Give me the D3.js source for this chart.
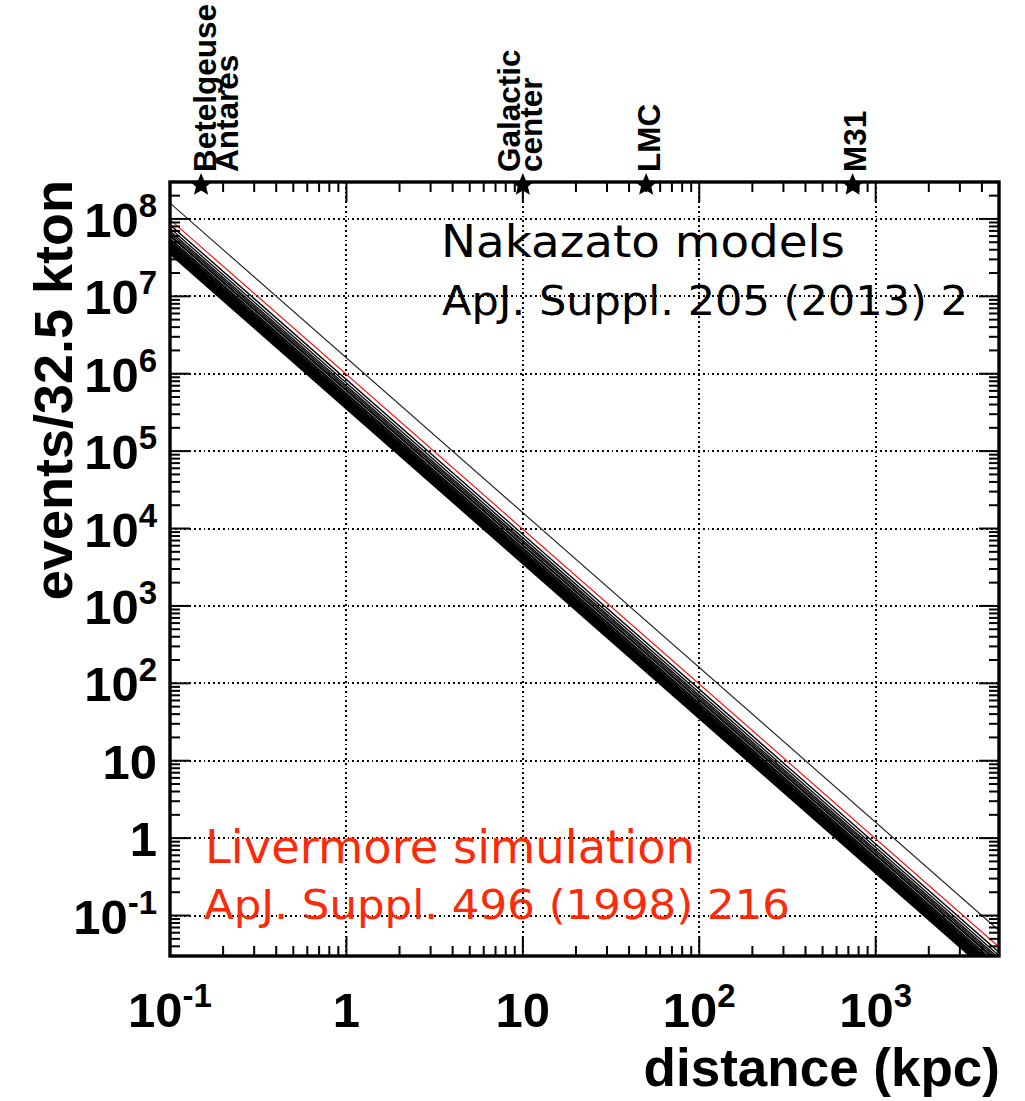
<!DOCTYPE html>
<html>
<head>
<meta charset="utf-8">
<script src="https://cdn.jsdelivr.net/npm/d3@7"></script>
<style>
  html, body { margin: 0; padding: 0; background: #fff; }
  svg { display: block; }
</style>
</head>
<body>
<svg id="chart" width="1025" height="1101"></svg>
<script>
// Expected events per 32.5 kton for a supernova at 10 kpc
const nakazatoEventsAt10kpc = [3500, 3600, 3700, 3800, 3900, 4000, 4100, 4200, 4300, 4400, 4500, 4600,
                               4700, 4850, 5000, 5150, 5400, 5600, 6000, 6200, 6600, 7000, 7600, 8400];
const nakazatoBlackHoleEventsAt10kpc = [16000];   // black-hole forming collapse
const livermoreEventsAt10kpc = [9800];
const referenceDistance = 10;                     // kpc
const lineDistances = [0.1, 5000];                // kpc, ends of each line

// Axis ticks and their labels (base, exponent)
const xTickValues = [0.1, 1, 10, 100, 1000];
const xTickLabels = [["10", "-1"], ["1", ""], ["10", ""], ["10", "2"], ["10", "3"]];
const yTickValues = [1e-1, 1, 10, 1e2, 1e3, 1e4, 1e5, 1e6, 1e7, 1e8];
const yTickLabels = [["10", "-1"], ["1", ""], ["10", ""], ["10", "2"], ["10", "3"], ["10", "4"],
                     ["10", "5"], ["10", "6"], ["10", "7"], ["10", "8"]];

// Known supernova candidates / sites
const sourceLabels = [["Betelgeuse", "Antares"], ["Galactic", "center"], ["LMC"], ["M31"]];
const sourceDistances = [0.15, 10, 50, 740];

// ---------------------------------------------------------------------------
const svg = d3.select("#chart");
const frame = { left: 170, right: 999, top: 182, bottom: 956 };
const boldFont = "'Liberation Sans', Arial, Helvetica, sans-serif";
const textFont = "'DejaVu Sans', 'Noto Sans', sans-serif";
const red = "#fb2a08";

const x = d3.scaleLog().domain([0.1, 5000]).range([frame.left, frame.right]);
const y = d3.scaleLog().domain([0.03, 3e8]).range([frame.bottom, frame.top]);

// minor ticks: 2..9 times each power of ten inside the domain
function minorTicks(scale) {
  const [a, b] = scale.domain();
  const out = [];
  for (let e = Math.floor(Math.log10(a)); e <= Math.ceil(Math.log10(b)); e++) {
    for (let k = 2; k <= 9; k++) {
      const v = k * Math.pow(10, e);
      if (v >= a * 0.999 && v <= b * 1.001) out.push(v);
    }
  }
  return out;
}

svg.append("rect").attr("width", 1025).attr("height", 1101).attr("fill", "#fff");

svg.append("defs").append("clipPath").attr("id", "plot-clip")
  .append("rect")
  .attr("x", frame.left).attr("y", frame.top)
  .attr("width", frame.right - frame.left).attr("height", frame.bottom - frame.top);

// dotted grid at each decade
const grid = svg.append("g")
  .attr("stroke", "#000").attr("stroke-width", 1.8).attr("stroke-dasharray", "1.8,3")
  .attr("shape-rendering", "crispEdges");
grid.selectAll("line.gx").data(xTickValues.filter(v => x(v) > frame.left + 2)).join("line")
  .attr("class", "gx")
  .attr("x1", d => Math.round(x(d))).attr("x2", d => Math.round(x(d)))
  .attr("y1", frame.top).attr("y2", frame.bottom);
grid.selectAll("line.gy").data(yTickValues).join("line")
  .attr("class", "gy")
  .attr("x1", frame.left).attr("x2", frame.right)
  .attr("y1", d => Math.round(y(d))).attr("y2", d => Math.round(y(d)));

// event-count lines, falling as 1/d^2 from the value at 10 kpc
const line = d3.line().x(d => x(d[0])).y(d => y(d[1]));
const inverseSquare = n10 => lineDistances.map(d => [d, n10 * Math.pow(referenceDistance / d, 2)]);

const curves = svg.append("g").attr("clip-path", "url(#plot-clip)").attr("fill", "none");
curves.selectAll("path.nakazato").data(nakazatoEventsAt10kpc).join("path")
  .attr("class", "nakazato")
  .attr("d", d => line(inverseSquare(d)))
  .attr("stroke", "#000").attr("stroke-width", 1.35);
curves.selectAll("path.bh").data(nakazatoBlackHoleEventsAt10kpc).join("path")
  .attr("class", "bh")
  .attr("d", d => line(inverseSquare(d)))
  .attr("stroke", "#1a1a1a").attr("stroke-width", 1.1);
curves.selectAll("path.livermore").data(livermoreEventsAt10kpc).join("path")
  .attr("class", "livermore")
  .attr("d", d => line(inverseSquare(d)))
  .attr("stroke", "#f00").attr("stroke-width", 1.1);

// ticks on all four sides, pointing inward
const ticks = svg.append("g").attr("stroke", "#000").attr("stroke-width", 2);
const majorLen = 20, minorLen = 10;
const xTicks = xTickValues.map(v => ({ v, len: majorLen })).concat(minorTicks(x).map(v => ({ v, len: minorLen })));
const yTicks = yTickValues.map(v => ({ v, len: majorLen })).concat(minorTicks(y).map(v => ({ v, len: minorLen })));
ticks.selectAll("line.xb").data(xTicks).join("line").attr("class", "xb")
  .attr("x1", d => x(d.v)).attr("x2", d => x(d.v))
  .attr("y1", frame.bottom).attr("y2", d => frame.bottom - d.len);
ticks.selectAll("line.xt").data(xTicks).join("line").attr("class", "xt")
  .attr("x1", d => x(d.v)).attr("x2", d => x(d.v))
  .attr("y1", frame.top).attr("y2", d => frame.top + d.len);
ticks.selectAll("line.yl").data(yTicks).join("line").attr("class", "yl")
  .attr("y1", d => y(d.v)).attr("y2", d => y(d.v))
  .attr("x1", frame.left).attr("x2", d => frame.left + d.len);
ticks.selectAll("line.yr").data(yTicks).join("line").attr("class", "yr")
  .attr("y1", d => y(d.v)).attr("y2", d => y(d.v))
  .attr("x1", frame.right).attr("x2", d => frame.right - d.len);

// frame
svg.append("rect")
  .attr("x", frame.left).attr("y", frame.top)
  .attr("width", frame.right - frame.left).attr("height", frame.bottom - frame.top)
  .attr("fill", "none").attr("stroke", "#000").attr("stroke-width", 3.4);

// tick labels
function powerLabel(sel, lab) {
  sel.append("tspan").text(lab[0]);
  if (lab[1]) sel.append("tspan").attr("font-size", 33).attr("dy", -20).text(lab[1]);
}
const xLabels = svg.append("g").attr("font-family", boldFont).attr("font-weight", "bold")
  .attr("font-size", 49).attr("text-anchor", "middle").attr("fill", "#000");
xTickValues.forEach((v, i) => {
  const t = xLabels.append("text").attr("x", x(v)).attr("y", 1027);
  powerLabel(t, xTickLabels[i]);
});
const yLabels = svg.append("g").attr("font-family", boldFont).attr("font-weight", "bold")
  .attr("font-size", 49).attr("text-anchor", "end").attr("fill", "#000");
yTickValues.forEach((v, i) => {
  const t = yLabels.append("text").attr("x", 157).attr("y", y(v) + 18);
  powerLabel(t, yTickLabels[i]);
});

// axis titles
svg.append("text")
  .attr("x", 1000).attr("y", 1086)
  .attr("text-anchor", "end")
  .attr("font-family", boldFont).attr("font-weight", "bold").attr("font-size", 53)
  .text("distance (kpc)");
svg.append("text")
  .attr("transform", "translate(72,180) rotate(-90)")
  .attr("text-anchor", "end")
  .attr("font-family", boldFont).attr("font-weight", "bold").attr("font-size", 54)
  .text("events/32.5 kton");

// five-pointed star marker
function starPath(R, r) {
  const pts = d3.range(10).map(i => {
    const a = -Math.PI / 2 + i * Math.PI / 5;
    const rad = i % 2 ? r : R;
    return [rad * Math.cos(a), rad * Math.sin(a)];
  });
  return "M" + pts.map(p => p.join(",")).join("L") + "Z";
}

// source markers on the top axis and their names
const labelShift = [15, -3, 3, 2];
const lineGap = 22;
svg.append("g").selectAll("path").data(sourceDistances).join("path")
  .attr("transform", d => `translate(${x(d)},${frame.top + 3})`)
  .attr("d", starPath(12, 5.4))
  .attr("fill", "#000");
sourceDistances.forEach((d, i) => {
  const lines = sourceLabels[i];
  const centre = x(d) + labelShift[i];
  lines.forEach((txt, j) => {
    const bx = centre + (j - (lines.length - 1) / 2) * lineGap + 11;
    svg.append("text")
      .attr("transform", `translate(${bx},172) rotate(-90)`)
      .attr("font-family", boldFont).attr("font-weight", "bold").attr("font-size", 31.5)
      .text(txt);
  });
});

// model annotations
const notes = [
  { t: "Nakazato models", x: 441, y: 257, size: 45, len: 404, fill: "#000" },
  { t: "ApJ. Suppl. 205 (2013) 2", x: 442, y: 315, size: 40, len: 526, fill: "#000" },
  { t: "Livermore simulation", x: 205, y: 863, size: 46, len: 490, fill: red },
  { t: "ApJ. Suppl. 496 (1998) 216", x: 204, y: 919, size: 40, len: 586, fill: red }
];
svg.append("g").selectAll("text").data(notes).join("text")
  .attr("x", d => d.x).attr("y", d => d.y)
  .attr("font-family", textFont).attr("font-size", d => d.size)
  .attr("textLength", d => d.len).attr("lengthAdjust", "spacingAndGlyphs")
  .attr("fill", d => d.fill)
  .text(d => d.t);
</script>
</body>
</html>
